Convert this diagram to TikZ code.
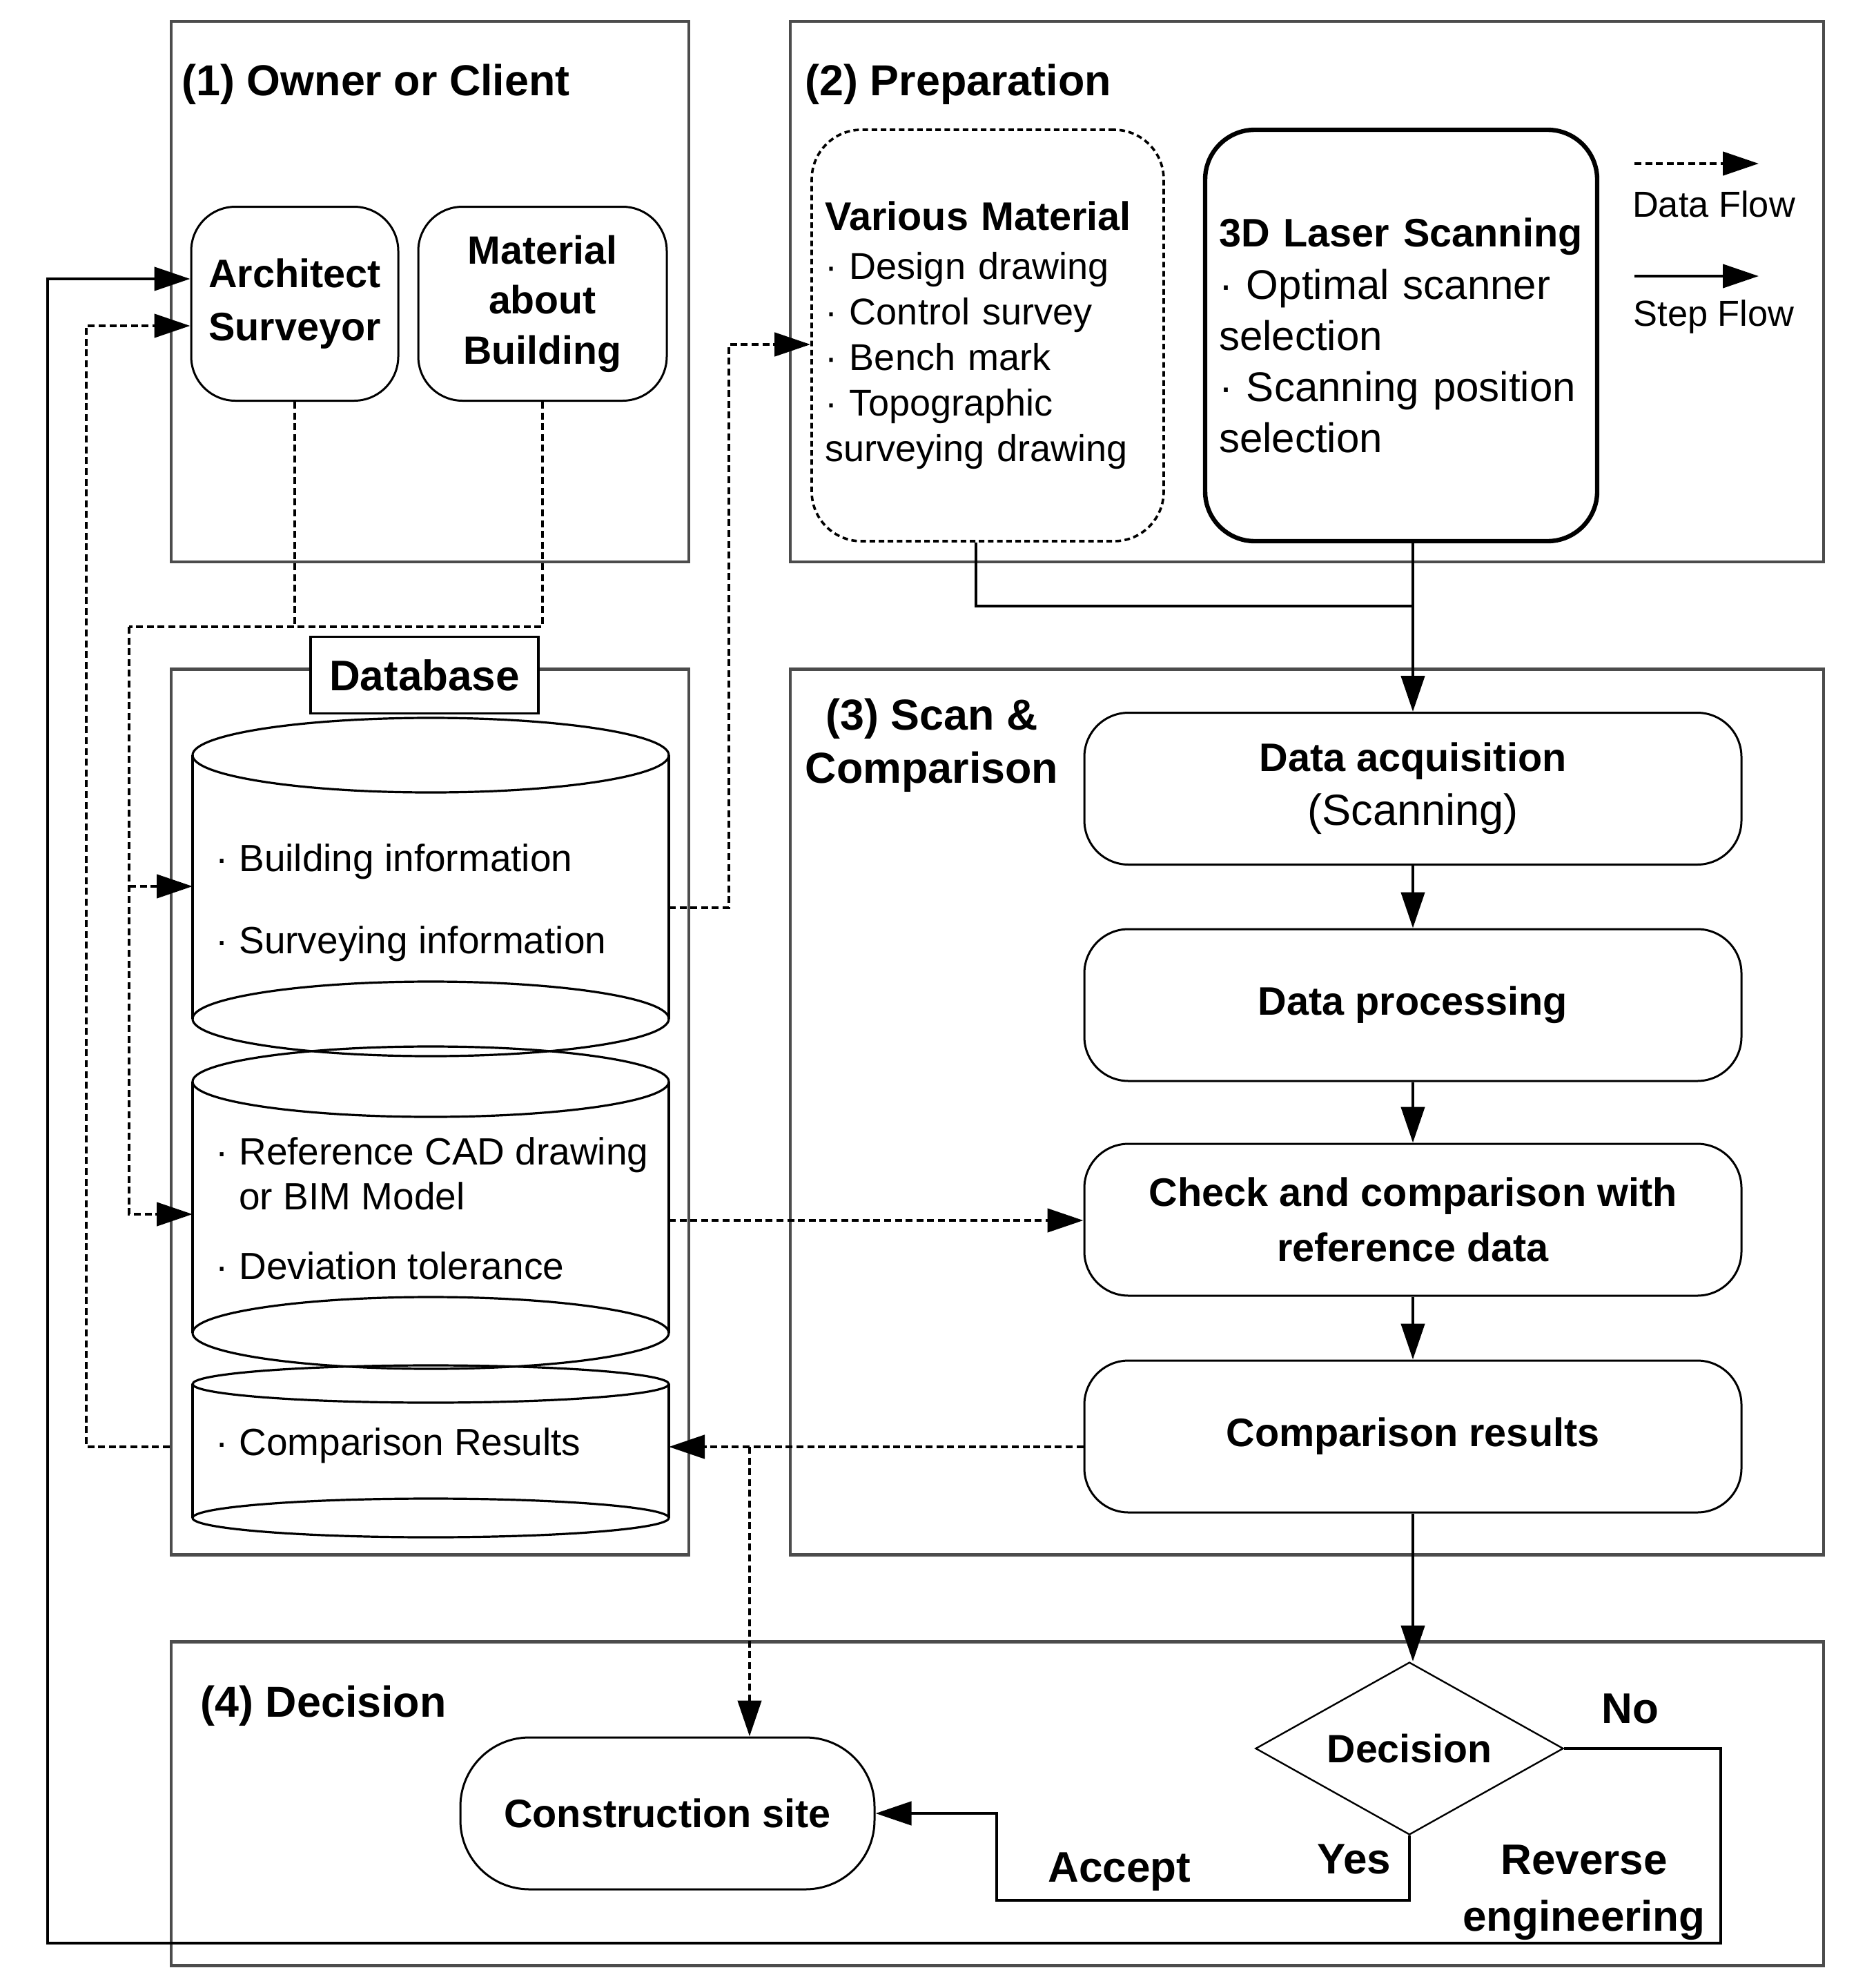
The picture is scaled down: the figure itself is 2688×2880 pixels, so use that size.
\documentclass[tikz,border=0pt]{standalone}
\usepackage{fontspec}
\setmainfont{Liberation Sans}
\usetikzlibrary{arrows.meta,shapes.geometric,calc}
\begin{document}
\begin{tikzpicture}[x=0.25pt,y=-0.25pt,
  frame/.style={draw=black!70, line width=1.1pt, inner sep=0},
  rbox/.style={draw, line width=0.75pt, rounded corners=16pt, align=center, inner sep=0},
  sbox/.style={rbox, minimum width=238pt, minimum height=55pt,
    font=\fontsize{14.4pt}{19.5pt}\selectfont\bfseries},
  hd/.style={inner sep=0, font=\fontsize{15.7pt}{19.25pt}\selectfont\bfseries},
  lab/.style={inner sep=0, font=\fontsize{15.5pt}{20.5pt}\selectfont\bfseries},
  dbt/.style={inner sep=0, anchor=west, align=left, font=\fontsize{13.75pt}{16.25pt}\selectfont},
  leg/.style={inner sep=0, font=\fontsize{13.1pt}{16pt}\selectfont},
  cyl/.style={line width=0.8pt},
  conn/.style={line width=1.15pt},
  dline/.style={conn, dash pattern=on 2.5pt off 1.4pt},
  sline/.style={conn},
  dflow/.style={dline, -{Triangle[length=13pt,width=8.5pt]}},
  sflow/.style={sline, -{Triangle[length=13pt,width=8.5pt]}}
]
\useasboundingbox (0,0) rectangle (2688,2880);

% frames
\node[frame, minimum width=187.5pt, minimum height=195.75pt] (b1) at (623,422.5) {};
\node[frame, minimum width=374.25pt, minimum height=195.75pt] (b2) at (1893.5,422.5) {};
\node[frame, minimum width=374.25pt, minimum height=320.75pt] (b3) at (1893.5,1611) {};
\node[frame, minimum width=187.5pt, minimum height=320.75pt] (db) at (623,1611) {};
\node[frame, minimum width=598.5pt, minimum height=117.25pt] (b4) at (1445,2613) {};

% headings
\node[hd, anchor=west] (t1) at (263,122) {(1) Owner or Client};
\node[hd, anchor=west] (t2) at (1166,122) {(2) Preparation};
\node[hd, align=center] (t3) at (1350,1080) {(3) Scan \&\\Comparison};
\node[hd, anchor=west] (t4) at (290,2471) {(4) Decision};

% owner
\node[rbox, minimum width=75pt, minimum height=70.25pt,
  font=\fontsize{14.4pt}{19.25pt}\selectfont\bfseries] (arch) at (427,440) {Architect\\Surveyor};
\node[rbox, minimum width=90pt, minimum height=70.25pt,
  font=\fontsize{14.3pt}{18.1pt}\selectfont\bfseries] (mat) at (786,440) {Material\\about\\Building};

% preparation
\node[rbox, rounded corners=18pt, dash pattern=on 2pt off 1.3pt, line width=0.9pt,
  minimum width=127.5pt, minimum height=149pt, text width=118pt, align=left,
  font=\fontsize{13.5pt}{16.5pt}\selectfont] (var) at (1431,486)
  {{\fontsize{14.4pt}{16.5pt}\selectfont\bfseries Various Material}\\[1.25pt]
   · Design drawing\\· Control survey\\· Bench mark\\· Topographic\\surveying drawing};
\node[rbox, rounded corners=18pt, line width=1.6pt,
  minimum width=142pt, minimum height=149pt, text width=132pt, align=left,
  font=\fontsize{15pt}{18.5pt}\selectfont] (las) at (2030,486)
  {{\fontsize{14.4pt}{18.5pt}\selectfont\bfseries 3D Laser Scanning}\\[0.3pt]
   · Optimal scanner\\selection\\· Scanning position\\selection\\[3pt]};

% legend
\coordinate (l1a) at (2368,237); \coordinate (l1b) at (2548,237);
\coordinate (l2a) at (2368,400); \coordinate (l2b) at (2548,400);
\draw[dflow] (l1a) -- (l1b);
\draw[sflow] (l2a) -- (l2b);
\node[leg] (ldf) at (2483,296) {Data Flow};
\node[leg] (lsf) at (2483,459) {Step Flow};

% scan & comparison
\node[sbox] (acq) at (2047,1142.5) {Data acquisition\\{\fontsize{15.8pt}{19.5pt}\selectfont\mdseries (Scanning)}};
\node[sbox] (proc) at (2047,1456) {Data processing};
\node[sbox, font=\fontsize{14.4pt}{20pt}\selectfont\bfseries] (check) at (2047,1767) {Check and comparison with\\reference data};
\node[sbox] (cres) at (2047,2081) {Comparison results};

% database
\draw[cyl] (279,1094) -- (279,1476) (969,1094) -- (969,1476);
\draw[cyl] (624,1094) ellipse [x radius=345, y radius=54];
\draw[cyl] (624,1476) ellipse [x radius=345, y radius=54];
\draw[cyl] (279,1567) -- (279,1931) (969,1567) -- (969,1931);
\draw[cyl] (624,1567) ellipse [x radius=345, y radius=51];
\draw[cyl] (624,1931) ellipse [x radius=345, y radius=52];
\draw[cyl] (279,2005) -- (279,2199) (969,2005) -- (969,2199);
\draw[cyl] (624,2005) ellipse [x radius=345, y radius=27];
\draw[cyl] (624,2199) ellipse [x radius=345, y radius=28];
\node[draw, fill=white, line width=0.9pt, minimum width=82.5pt, minimum height=27.75pt, inner sep=0,
  font=\fontsize{15.5pt}{18pt}\selectfont\bfseries] (dbl) at (615,978) {Database};
\node[dbt] (i1) at (312,1248) {· Building information};
\node[dbt] (i2) at (312,1367) {· Surveying information};
\node[dbt] (i3) at (312,1700) {· Reference CAD drawing\\\hphantom{· }or BIM Model};
\node[dbt] (i4) at (312,1834) {· Deviation tolerance};
\node[dbt] (i5) at (312,2094) {· Comparison Results};

% decision
\node[rbox, rounded corners=25pt, minimum width=150pt, minimum height=55pt,
  font=\fontsize{14.4pt}{18pt}\selectfont\bfseries] (cons) at (967,2627) {Construction site};
\node[draw, diamond, aspect=1.8, line width=0.6pt, minimum width=111.5pt, minimum height=62.5pt,
  inner sep=0, font=\fontsize{14.3pt}{18pt}\selectfont\bfseries] (dec) at (2042,2533) {Decision};
\node[lab] (no) at (2362,2475) {No};
\node[lab] (yes) at (1962,2693) {Yes};
\node[lab] (acc) at (1622,2712) {Accept};
\node[lab, align=center] (rev) at (2295,2742) {Reverse\\engineering};

% coordinates
\coordinate (jn) at (187,908);
\coordinate (c1w) at (279,1284);
\coordinate (c2w) at (279,1759);
\coordinate (c1e) at (969,1315);
\coordinate (c2e) at (969,1768);
\coordinate (c3e) at (969,2096);
\coordinate (vy) at (1056,499);
\coordinate (br) at (1086,2096);
\coordinate (dl) at (125,472);
\coordinate (jx) at (1414,878);
\coordinate (jn2) at (2047,878);
\coordinate (ya) at (1444,2753);
\coordinate (na) at (2493,2815);
\coordinate (nb) at (69,404);

% step flow connectors
\draw[sline] (var.south -| jx) |- (jn2);
\draw[sflow] (las.south -| acq.north) -- (acq.north);
\draw[sflow] (acq.south) -- (proc.north);
\draw[sflow] (proc.south) -- (check.north);
\draw[sflow] (check.south) -- (cres.north);
\draw[sflow] (cres.south) -- (cres.south |- dec.north);
\draw[sflow] (dec.south) |- (ya) |- (cons.east);
\draw[sflow] (dec.east) -| (na) -| (nb) -- (arch.west |- nb);

% data flow connectors
\draw[dline] (arch.south) -- (arch.south |- jn);
\draw[dline] (mat.south) |- (jn);
\draw[dflow] (jn) |- (c2w);
\draw[dflow] (jn |- c1w) -- (c1w);
\draw[dflow] (c1e) -| (vy) -- (var.west |- vy);
\draw[dflow] (c2e) -- (check.west |- c2e);
\draw[dflow] (cres.west |- c3e) -- (c3e);
\draw[dflow] (br) -- (br |- cons.north);
\draw[dflow] (db.west |- c3e) -| (dl) -- (arch.west |- dl);
\end{tikzpicture}
\end{document}
